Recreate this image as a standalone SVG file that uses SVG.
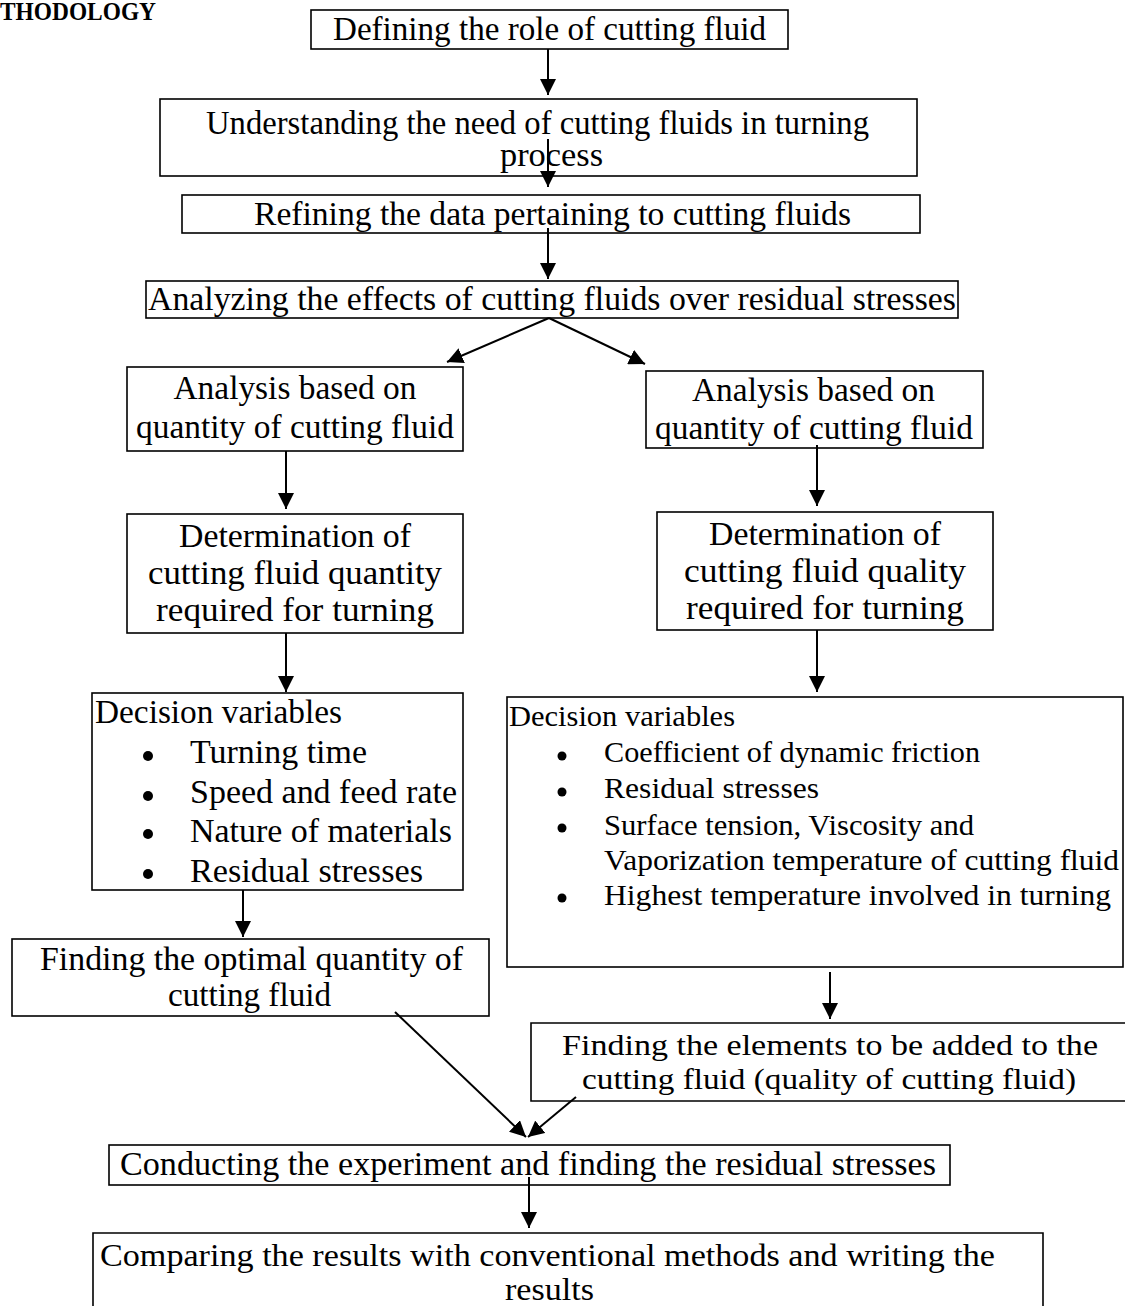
<svg xmlns="http://www.w3.org/2000/svg" width="1125" height="1306" viewBox="0 0 1125 1306">
<style>
.box{fill:none;stroke:#000;stroke-width:1.6}
.t{font-family:"Liberation Serif","Times New Roman",serif;fill:#000;font-size:33px}
.s34{font-size:34px}
.s31{font-size:31px}
.s30{font-size:30px}
.title{font-family:"Liberation Serif","Times New Roman",serif;font-weight:bold;font-size:25px;fill:#000}
.c{stroke:#000;stroke-width:2;fill:none;marker-end:url(#ah)}
.b{fill:#000}
</style>
<defs>
<marker id="ah" markerUnits="userSpaceOnUse" markerWidth="16" markerHeight="16" refX="15" refY="7.5" orient="auto" viewBox="0 0 15 15">
<path d="M0,0 L15,7.5 L0,15 z" fill="#000"/>
</marker>
</defs>
<rect width="1125" height="1306" fill="#fff"/>
<text class="title" x="0" y="20" textLength="156" lengthAdjust="spacingAndGlyphs">THODOLOGY</text>

<g id="connectors">
<line class="c" x1="548" y1="49" x2="548" y2="95"/>
<line class="c" x1="548" y1="139" x2="548" y2="187"/>
<line class="c" x1="548" y1="228" x2="548" y2="279"/>
<line class="c" x1="549" y1="318" x2="447" y2="362"/>
<line class="c" x1="549" y1="318" x2="645" y2="364"/>
<line class="c" x1="286" y1="451" x2="286" y2="509"/>
<line class="c" x1="817" y1="445" x2="817" y2="506"/>
<line class="c" x1="286" y1="633" x2="286" y2="692"/>
<line class="c" x1="817" y1="630" x2="817" y2="692"/>
<line class="c" x1="243" y1="890" x2="243" y2="937"/>
<line class="c" x1="830" y1="972" x2="830" y2="1019"/>
<line class="c" x1="395" y1="1012" x2="526" y2="1137"/>
<line class="c" x1="576" y1="1097" x2="528" y2="1137"/>
<line class="c" x1="529" y1="1177" x2="529" y2="1228"/>
</g>

<g id="n1">
<rect class="box" x="311" y="10" width="477" height="39"/>
<text class="t" x="333" y="40" textLength="433" lengthAdjust="spacingAndGlyphs">Defining the role of cutting fluid</text>
</g>
<g id="n2">
<rect class="box" x="160" y="99" width="757" height="77"/>
<text class="t" x="206" y="134" textLength="663" lengthAdjust="spacingAndGlyphs">Understanding the need of cutting fluids in turning</text>
<text class="t" x="500" y="166" textLength="103" lengthAdjust="spacingAndGlyphs">process</text>
</g>
<g id="n3">
<rect class="box" x="182" y="195" width="738" height="38"/>
<text class="t s34" x="254" y="225" textLength="597" lengthAdjust="spacingAndGlyphs">Refining the data pertaining to cutting fluids</text>
</g>
<g id="n4">
<rect class="box" x="146" y="281" width="812" height="37"/>
<text class="t s34" x="148" y="310" textLength="808" lengthAdjust="spacingAndGlyphs">Analyzing the effects of cutting fluids over residual stresses</text>
</g>
<g id="n5a">
<rect class="box" x="127" y="367" width="336" height="84"/>
<text class="t" x="173.5" y="399" textLength="243" lengthAdjust="spacingAndGlyphs">Analysis based on</text>
<text class="t" x="136" y="438" textLength="318" lengthAdjust="spacingAndGlyphs">quantity of cutting fluid</text>
</g>
<g id="n5b">
<rect class="box" x="646" y="371" width="337" height="77"/>
<text class="t" x="692" y="401" textLength="243" lengthAdjust="spacingAndGlyphs">Analysis based on</text>
<text class="t" x="655" y="439" textLength="318" lengthAdjust="spacingAndGlyphs">quantity of cutting fluid</text>
</g>
<g id="n6a">
<rect class="box" x="127" y="514" width="336" height="119"/>
<text class="t" x="179" y="547" textLength="232" lengthAdjust="spacingAndGlyphs">Determination of</text>
<text class="t" x="148" y="584" textLength="294" lengthAdjust="spacingAndGlyphs">cutting fluid quantity</text>
<text class="t" x="156" y="621" textLength="278" lengthAdjust="spacingAndGlyphs">required for turning</text>
</g>
<g id="n6b">
<rect class="box" x="657" y="512" width="336" height="118"/>
<text class="t" x="709" y="545" textLength="232" lengthAdjust="spacingAndGlyphs">Determination of</text>
<text class="t" x="684" y="582" textLength="282" lengthAdjust="spacingAndGlyphs">cutting fluid quality</text>
<text class="t" x="686" y="619" textLength="278" lengthAdjust="spacingAndGlyphs">required for turning</text>
</g>
<g id="n7a">
<rect class="box" x="92" y="693" width="371" height="197"/>
<text class="t" x="95" y="723" textLength="247" lengthAdjust="spacingAndGlyphs">Decision variables</text>
<circle class="b" cx="148" cy="756" r="5"/>
<circle class="b" cx="148" cy="796" r="5"/>
<circle class="b" cx="148" cy="834" r="5"/>
<circle class="b" cx="148" cy="874" r="5"/>
<text class="t" x="190" y="763" textLength="177" lengthAdjust="spacingAndGlyphs">Turning time</text>
<text class="t" x="190" y="803" textLength="267" lengthAdjust="spacingAndGlyphs">Speed and feed rate</text>
<text class="t" x="190" y="842" textLength="262" lengthAdjust="spacingAndGlyphs">Nature of materials</text>
<text class="t" x="190" y="882" textLength="233" lengthAdjust="spacingAndGlyphs">Residual stresses</text>
</g>
<g id="n7b">
<rect class="box" x="507" y="697" width="616" height="270"/>
<text class="t s30" x="509" y="726" textLength="226" lengthAdjust="spacingAndGlyphs">Decision variables</text>
<circle class="b" cx="562" cy="756" r="4.5"/>
<circle class="b" cx="562" cy="792" r="4.5"/>
<circle class="b" cx="562" cy="828" r="4.5"/>
<circle class="b" cx="562" cy="898" r="4.5"/>
<text class="t s30" x="604" y="762" textLength="376" lengthAdjust="spacingAndGlyphs">Coefficient of dynamic friction</text>
<text class="t s30" x="604" y="798" textLength="215" lengthAdjust="spacingAndGlyphs">Residual stresses</text>
<text class="t s30" x="604" y="835" textLength="370" lengthAdjust="spacingAndGlyphs">Surface tension, Viscosity and</text>
<text class="t s30" x="604" y="870" textLength="515" lengthAdjust="spacingAndGlyphs">Vaporization temperature of cutting fluid</text>
<text class="t s30" x="604" y="905" textLength="507" lengthAdjust="spacingAndGlyphs">Highest temperature involved in turning</text>
</g>
<g id="n8a">
<rect class="box" x="12" y="939" width="477" height="77"/>
<text class="t" x="40" y="970" textLength="423" lengthAdjust="spacingAndGlyphs">Finding the optimal quantity of</text>
<text class="t" x="168" y="1006" textLength="163" lengthAdjust="spacingAndGlyphs">cutting fluid</text>
</g>
<g id="n8b">
<path class="box" d="M1130,1023 H531 V1101 H1130"/>
<text class="t s30" x="562" y="1055" textLength="536" lengthAdjust="spacingAndGlyphs">Finding the elements to be added to the</text>
<text class="t s30" x="582" y="1089" textLength="494" lengthAdjust="spacingAndGlyphs">cutting fluid (quality of cutting fluid)</text>
</g>
<g id="n9">
<rect class="box" x="109" y="1145" width="841" height="40"/>
<text class="t s34" x="120" y="1175" textLength="816" lengthAdjust="spacingAndGlyphs">Conducting the experiment and finding the residual stresses</text>
</g>
<g id="n10">
<path class="box" d="M93,1310 V1233 H1043 V1310"/>
<text class="t s31" x="100" y="1266" textLength="895" lengthAdjust="spacingAndGlyphs">Comparing the results with conventional methods and writing the</text>
<text class="t s31" x="505" y="1300" textLength="89" lengthAdjust="spacingAndGlyphs">results</text>
</g>
</svg>
